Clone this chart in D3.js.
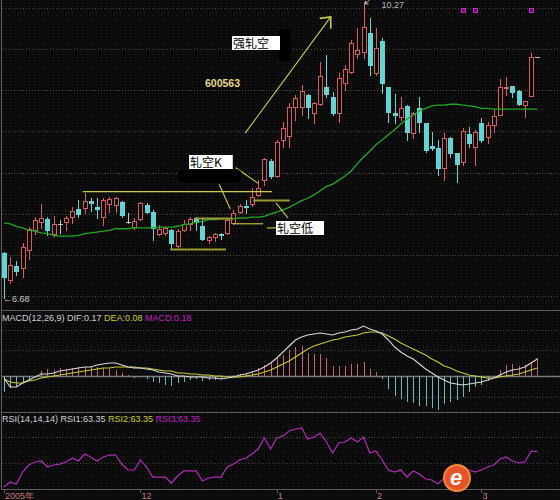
<!DOCTYPE html>
<html>
<head>
<meta charset="utf-8">
<script src="https://cdn.jsdelivr.net/npm/d3@7"></script>
<style>
  html, body { margin: 0; padding: 0; background: #0a0a0a; }
  svg { display: block; }
  text { font-family: "Liberation Sans", Arial, "DejaVu Sans", sans-serif; }
</style>
</head>
<body>
<script>
// daily bars, 600563
var opens = [7.23, 6.90, 7.07, 7.04, 7.26, 7.50, 7.60, 7.64, 7.46, 7.58,
  7.60, 7.66, 7.76, 7.77, 7.86, 7.78, 7.66, 7.82, 7.81, 7.84,
  7.60, 7.54, 7.64, 7.81, 7.72, 7.46, 7.47, 7.50, 7.31, 7.50,
  7.58, 7.65, 7.55, 7.38, 7.42, 7.46, 7.47, 7.59, 7.72, 7.80,
  7.82, 7.93, 8.11, 8.34, 8.16, 8.60, 8.65, 9.00, 9.00, 9.14,
  8.92, 9.03, 9.24, 9.12, 8.92, 9.29, 9.42, 9.64, 9.66, 9.89,
  9.41, 9.80, 9.24, 8.92, 8.88, 9.01, 8.68, 8.98, 8.80, 8.52,
  8.50, 8.26, 8.62, 8.44, 8.33, 8.67, 8.51, 8.80, 8.63, 8.78,
  8.90, 9.23, 9.25, 9.19, 9.02, 9.13, 9.60];
var highs = [7.24, 7.18, 7.13, 7.35, 7.54, 7.66, 7.82, 7.66, 7.67, 7.63,
  7.67, 7.78, 7.87, 7.95, 7.89, 7.89, 7.89, 7.91, 7.91, 7.86,
  7.71, 7.65, 7.84, 7.83, 7.75, 7.57, 7.54, 7.52, 7.52, 7.63,
  7.66, 7.66, 7.65, 7.43, 7.47, 7.47, 7.64, 7.75, 7.82, 7.87,
  8.01, 8.11, 8.38, 8.37, 8.60, 8.81, 9.05, 9.14, 9.26, 9.15,
  9.06, 9.54, 9.63, 9.18, 9.41, 9.51, 9.81, 9.96, 10.27, 10.08,
  9.96, 9.83, 9.24, 9.15, 9.12, 9.02, 8.94, 9.12, 8.80, 8.69,
  8.60, 8.68, 8.63, 8.44, 8.74, 8.75, 8.72, 8.86, 8.81, 8.96,
  9.34, 9.36, 9.25, 9.20, 9.07, 9.65, 9.60];
var lows = [6.68, 6.86, 6.96, 6.93, 7.15, 7.46, 7.53, 7.44, 7.43, 7.47,
  7.50, 7.59, 7.66, 7.71, 7.74, 7.65, 7.57, 7.72, 7.72, 7.66,
  7.59, 7.52, 7.63, 7.71, 7.38, 7.44, 7.44, 7.29, 7.30, 7.49,
  7.50, 7.50, 7.38, 7.35, 7.37, 7.40, 7.46, 7.58, 7.71, 7.71,
  7.80, 7.92, 8.05, 8.14, 8.15, 8.51, 8.51, 8.84, 8.90, 8.86,
  8.80, 9.02, 9.12, 8.90, 8.81, 9.20, 9.41, 9.59, 9.59, 9.38,
  9.38, 9.17, 8.81, 8.80, 8.84, 8.60, 8.62, 8.69, 8.45, 8.47,
  8.17, 8.11, 8.39, 8.09, 8.29, 8.51, 8.29, 8.57, 8.56, 8.69,
  8.90, 9.14, 9.12, 9.02, 8.88, 9.13, 9.60];
var closes = [6.93, 7.08, 7.01, 7.30, 7.52, 7.63, 7.65, 7.50, 7.58, 7.58,
  7.65, 7.74, 7.70, 7.86, 7.83, 7.76, 7.87, 7.88, 7.89, 7.69,
  7.60, 7.61, 7.83, 7.72, 7.53, 7.52, 7.53, 7.35, 7.49, 7.58,
  7.64, 7.60, 7.40, 7.42, 7.46, 7.44, 7.63, 7.71, 7.80, 7.78,
  7.90, 8.01, 8.37, 8.16, 8.57, 8.74, 9.00, 9.11, 9.19, 9.00,
  9.05, 9.37, 9.15, 8.92, 9.35, 9.46, 9.77, 9.69, 9.97, 9.51,
  9.71, 9.29, 8.94, 8.90, 8.98, 8.69, 8.92, 8.81, 8.47, 8.50,
  8.26, 8.62, 8.44, 8.31, 8.71, 8.56, 8.69, 8.60, 8.78, 8.89,
  9.24, 9.24, 9.18, 9.03, 9.07, 9.60, 9.60];

// moving average (green)
var maValues = [7.59, 7.58, 7.55, 7.53, 7.50, 7.49, 7.47, 7.46, 7.44, 7.43,
  7.43, 7.43, 7.44, 7.46, 7.47, 7.48, 7.49, 7.50, 7.52, 7.52,
  7.52, 7.53, 7.53, 7.53, 7.53, 7.54, 7.54, 7.54, 7.55, 7.57,
  7.58, 7.60, 7.61, 7.63, 7.63, 7.64, 7.64, 7.64, 7.65, 7.65,
  7.66, 7.66, 7.67, 7.70, 7.72, 7.75, 7.78, 7.82, 7.86, 7.89,
  7.93, 7.98, 8.03, 8.06, 8.11, 8.16, 8.22, 8.31, 8.39, 8.46,
  8.54, 8.60, 8.66, 8.72, 8.79, 8.85, 8.90, 8.95, 8.98, 9.01,
  9.02, 9.02, 9.03, 9.03, 9.02, 9.01, 9.00, 8.98, 8.98, 8.97,
  8.97, 8.97, 8.97, 8.97, 8.97, 8.97, 8.97];

// MACD(12,26,9)
var dif = [-0.02, -0.11, -0.11, -0.07, -0.04, -0.01, 0.02, 0.02, 0.03, 0.05,
  0.06, 0.07, 0.08, 0.09, 0.09, 0.11, 0.12, 0.13, 0.13, 0.11,
  0.09, 0.08, 0.08, 0.07, 0.06, 0.04, 0.03, 0.02, 0.00, 0.00,
  -0.01, -0.01, -0.01, -0.02, -0.02, -0.03, -0.02, -0.01, 0.01, 0.02,
  0.04, 0.06, 0.09, 0.13, 0.18, 0.24, 0.30, 0.36, 0.39, 0.41,
  0.42, 0.43, 0.42, 0.41, 0.43, 0.44, 0.46, 0.47, 0.50, 0.47,
  0.45, 0.42, 0.36, 0.29, 0.24, 0.20, 0.17, 0.12, 0.07, 0.03,
  -0.01, -0.04, -0.07, -0.08, -0.09, -0.08, -0.07, -0.06, -0.04, -0.02,
  0.01, 0.04, 0.06, 0.07, 0.09, 0.13, 0.17];
var dea = [-0.03, -0.06, -0.07, -0.07, -0.05, -0.04, -0.02, -0.01, 0.00, 0.01,
  0.02, 0.03, 0.04, 0.05, 0.06, 0.07, 0.08, 0.08, 0.09, 0.09,
  0.09, 0.09, 0.08, 0.08, 0.07, 0.06, 0.05, 0.05, 0.03, 0.03,
  0.02, 0.02, 0.01, 0.01, 0.00, 0.00, -0.01, -0.01, -0.01, 0.00,
  0.01, 0.02, 0.04, 0.06, 0.09, 0.12, 0.15, 0.19, 0.23, 0.27,
  0.30, 0.32, 0.34, 0.36, 0.37, 0.39, 0.40, 0.41, 0.43, 0.44,
  0.44, 0.43, 0.40, 0.37, 0.33, 0.30, 0.27, 0.24, 0.21, 0.17,
  0.14, 0.10, 0.08, 0.05, 0.03, 0.01, 0.00, -0.01, -0.02, -0.02,
  -0.01, 0.00, 0.01, 0.02, 0.04, 0.06, 0.08];
var macdBars = [-0.16, -0.12, -0.11, -0.06, -0.03, -0.01, 0.05, 0.07, 0.06, 0.08,
  0.06, 0.08, 0.09, 0.09, 0.10, 0.09, 0.08, 0.07, 0.06, 0.03,
  0.01, -0.02, -0.01, -0.03, -0.06, -0.07, -0.09, -0.10, -0.07, -0.06,
  -0.04, -0.03, -0.05, -0.04, -0.04, -0.03, -0.01, 0.01, 0.02, 0.03,
  0.04, 0.08, 0.11, 0.13, 0.18, 0.21, 0.26, 0.29, 0.30, 0.23,
  0.22, 0.22, 0.18, 0.10, 0.10, 0.10, 0.12, 0.12, 0.14, 0.07,
  0.04, -0.03, -0.13, -0.20, -0.23, -0.26, -0.27, -0.30, -0.30, -0.32,
  -0.34, -0.28, -0.26, -0.24, -0.21, -0.16, -0.11, -0.09, -0.05, 0.00,
  0.06, 0.11, 0.12, 0.10, 0.11, 0.14, 0.18];

// RSI(14,14,14) - the three lines coincide
var rsi = [22.3, 28.1, 25.8, 39.6, 47.7, 51.2, 52.3, 45.4, 47.7, 48.8,
  51.2, 55.8, 52.3, 60.4, 56.9, 52.3, 56.9, 59.2, 59.2, 48.8,
  41.9, 41.9, 53.5, 45.4, 33.8, 33.8, 33.8, 26.9, 35.0, 40.8,
  40.8, 40.8, 29.2, 32.7, 33.8, 33.8, 45.4, 48.8, 53.5, 55.8,
  60.4, 66.2, 78.8, 66.2, 78.8, 81.2, 86.9, 89.2, 90.4, 77.7,
  80.0, 84.6, 74.2, 61.5, 73.1, 74.2, 78.8, 74.2, 80.0, 61.5,
  63.8, 53.5, 41.9, 39.6, 41.9, 33.8, 40.8, 37.3, 31.5, 30.4,
  25.8, 32.7, 35.0, 33.8, 39.6, 41.9, 39.6, 41.9, 45.4, 47.7,
  54.6, 56.9, 52.3, 50.0, 51.2, 63.35, 63.35];

var monthLabels = ["2005年", "12", "1", "2", "3"];
var monthIdx = [0, 22, 44, 60, 77];
var priceGrid = [6.7, 7.2, 7.7, 8.2, 8.7, 9.2, 9.7, 10.2];
var macdGrid = [0.46, 0.26, -0.21];
var rsiGrid = [80, 50];
var signalIdx = [74, 76, 85];

// hand drawn marks, [bar index, price, bar index, price]
var thinMarks = [[12.7, 7.97, 43.2, 7.97], [36.9, 7.58, 41.8, 7.58], [42.4, 7.53, 44.0, 7.53],
  [37.4, 8.26, 41.0, 8.07], [34.7, 8.06, 36.5, 7.76], [43.9, 7.83, 45.8, 7.65]];
var thickMarks = [[26.8, 7.27, 35.8, 7.27], [30.8, 7.65, 36.9, 7.65], [40.2, 7.87, 46.1, 7.87]];
var trendMark = [38.9, 8.68, 52.7, 10.09];

var width = 560;
var height = 500;

var svg = d3.select("body").append("svg")
    .attr("width", width)
    .attr("height", height);

var defs = svg.append("defs");
var pat = defs.append("pattern").attr("id", "dots")
    .attr("width", 3).attr("height", 3).attr("patternUnits", "userSpaceOnUse");
pat.append("rect").attr("width", 3).attr("height", 3).attr("fill", "#0a0a0a");
pat.append("rect").attr("width", 1).attr("height", 1).attr("fill", "#1a1a1a");
svg.append("rect").attr("width", width).attr("height", height).attr("fill", "url(#dots)");

var x = d3.scaleLinear().domain([0, 86]).range([4, 537.2]);
var y = d3.scaleLinear().domain([6.68, 10.27]).range([298, 2]);
var yMacd = d3.scaleLinear().domain([-0.35, 0.65]).range([411, 311]);
var yRsi = d3.scaleLinear().domain([50, 80]).range([463, 437]);

function px(i) { return Math.round(x(i)) + 0.5; }
function py(v, s) { return Math.round(s(v)) + 0.5; }

var upColor = "#d65c5c", downColor = "#62d4d4", flatColor = "#bdbdbd";
function candleColor(i) {
  if (closes[i] > opens[i]) return upColor;
  if (closes[i] < opens[i]) return downColor;
  return flatColor;
}

// grid & frames
var grid = svg.append("g").attr("class", "grid");
grid.selectAll("line.pg").data(priceGrid).enter().append("line")
    .attr("x1", 2).attr("x2", width)
    .attr("y1", function(d) { return py(d, y); })
    .attr("y2", function(d) { return py(d, y); })
    .attr("stroke", "#4a4a4a").attr("stroke-dasharray", "1,2");
grid.selectAll("line.mg").data(macdGrid).enter().append("line")
    .attr("x1", 2).attr("x2", width)
    .attr("y1", function(d) { return py(d, yMacd); })
    .attr("y2", function(d) { return py(d, yMacd); })
    .attr("stroke", "#444").attr("stroke-dasharray", "1,2");
grid.selectAll("line.rg").data(rsiGrid).enter().append("line")
    .attr("x1", 2).attr("x2", width)
    .attr("y1", function(d) { return py(d, yRsi); })
    .attr("y2", function(d) { return py(d, yRsi); })
    .attr("stroke", "#444").attr("stroke-dasharray", "1,2");

[310.5, 412.5, 489.5].forEach(function(yy) {
  grid.append("line").attr("x1", 2).attr("x2", width)
      .attr("y1", yy).attr("y2", yy).attr("stroke", "#5c5c5c");
});
grid.append("line").attr("x1", 1.5).attr("x2", 1.5).attr("y1", 0).attr("y2", 490)
    .attr("stroke", "#5c5c5c");

// candles
var candles = svg.append("g").attr("class", "candles")
  .selectAll("g").data(d3.range(opens.length)).enter().append("g");

candles.append("line")
    .attr("x1", px).attr("x2", px)
    .attr("y1", function(i) { return Math.round(y(highs[i])); })
    .attr("y2", function(i) { return Math.round(y(lows[i])) + 1; })
    .attr("stroke", candleColor);

candles.filter(function(i) { return opens[i] !== closes[i]; }).append("rect")
    .attr("x", function(i) { return px(i) - 2; })
    .attr("y", function(i) { return py(Math.max(opens[i], closes[i]), y); })
    .attr("width", 4)
    .attr("height", function(i) {
      return Math.max(1, py(Math.min(opens[i], closes[i]), y) - py(Math.max(opens[i], closes[i]), y));
    })
    .attr("fill", function(i) { return closes[i] > opens[i] ? "#0a0a0a" : downColor; })
    .attr("stroke", candleColor);

candles.filter(function(i) { return opens[i] === closes[i]; }).append("line")
    .attr("x1", function(i) { return px(i) - 2.5; })
    .attr("x2", function(i) { return px(i) + 2.5; })
    .attr("y1", function(i) { return py(closes[i], y); })
    .attr("y2", function(i) { return py(closes[i], y); })
    .attr("stroke", flatColor);

// MA
svg.append("path")
    .datum(maValues)
    .attr("fill", "none")
    .attr("stroke", "#22a822")
    .attr("stroke-width", 1.3)
    .attr("d", d3.line().x(function(d, i) { return x(i); }).y(function(d) { return y(d); }));

// drawn marks
var marks = svg.append("g").attr("class", "marks");
marks.selectAll("line.thick").data(thickMarks).enter().append("line")
    .attr("x1", function(d) { return x(d[0]); }).attr("y1", function(d) { return py(d[1], y); })
    .attr("x2", function(d) { return x(d[2]); }).attr("y2", function(d) { return py(d[3], y); })
    .attr("stroke", "#9a9a36").attr("stroke-width", 2);
marks.selectAll("line.thin").data(thinMarks).enter().append("line")
    .attr("x1", function(d) { return x(d[0]); }).attr("y1", function(d) { return y(d[1]); })
    .attr("x2", function(d) { return x(d[2]); }).attr("y2", function(d) { return y(d[3]); })
    .attr("stroke", "#cfcc4a").attr("stroke-width", 1.1);

var tx = x(trendMark[2]), ty = y(trendMark[3]);
marks.append("line")
    .attr("x1", x(trendMark[0])).attr("y1", y(trendMark[1]))
    .attr("x2", tx).attr("y2", ty)
    .attr("stroke", "#cfcc4a").attr("stroke-width", 1.1);
marks.append("path")
    .attr("d", "M" + (tx - 11) + "," + (ty + 1.5) + "L" + tx + "," + ty + "L" + tx + "," + (ty + 12))
    .attr("fill", "none").attr("stroke", "#cfcc4a").attr("stroke-width", 1.6);

// shadows behind the callouts
marks.append("rect").attr("x", 279).attr("y", 29).attr("width", 12).attr("height", 32)
    .attr("rx", 3).attr("fill", "#000");
marks.append("rect").attr("x", 178).attr("y", 169).attr("width", 64).attr("height", 14)
    .attr("rx", 6).attr("fill", "#000");

function callout(label, left, top) {
  var g = marks.append("g");
  var r = g.append("rect").attr("x", left).attr("y", top).attr("height", 14).attr("fill", "#fff");
  var t = g.append("text").attr("x", left + 1).attr("y", top + 11.5)
      .style("font-family", "'Noto Sans CJK SC', sans-serif")
      .style("font-size", "12px").attr("fill", "#000").text(label);
  r.attr("width", t.node().getComputedTextLength() + 12);
}
callout("强轧空", 232, 36);
callout("轧空K", 189, 155);
callout("轧空低", 276, 221);

svg.append("text").attr("x", 205).attr("y", 87)
    .style("font-size", "10.5px").style("font-weight", "bold")
    .attr("fill", "#e4d68a").text("600563");

// high / low markers
var hiIdx = highs.indexOf(d3.max(highs));
var loIdx = lows.indexOf(d3.min(lows));
var hx = px(hiIdx), hy = y(highs[hiIdx]);
svg.append("path")
    .attr("d", "M" + (hx + 5) + "," + (hy - 2) + "L" + (hx + 1) + "," + (hy + 2) +
      "M" + (hx + 1) + "," + (hy - 1) + "L" + (hx + 1) + "," + (hy + 2) + "L" + (hx + 4) + "," + (hy + 2))
    .attr("fill", "none").attr("stroke", "#bdbdbd");
svg.append("text").attr("x", hx + 17).attr("y", hy + 5.5)
    .style("font-size", "9px").attr("fill", "#b8b8b8").text(d3.format(".2f")(highs[hiIdx]));
svg.append("text").attr("x", x(loIdx) - 1).attr("y", y(lows[loIdx]) + 4)
    .style("font-size", "9px").attr("fill", "#c8c8c8").text("←" + d3.format(".2f")(lows[loIdx]));

svg.selectAll("rect.sig").data(signalIdx).enter().append("rect")
    .attr("x", function(i) { return px(i) - 2; }).attr("y", 8.5)
    .attr("width", 4).attr("height", 4)
    .attr("fill", "#6a126a").attr("stroke", "#c424c4");

// MACD panel
var zero = py(0, yMacd);
svg.append("line").attr("x1", 2).attr("x2", width).attr("y1", zero).attr("y2", zero)
    .attr("stroke", "#7a7a7a").attr("stroke-width", 1.5);
svg.append("g").selectAll("line").data(macdBars).enter().append("line")
    .attr("x1", function(d, i) { return px(i); })
    .attr("x2", function(d, i) { return px(i); })
    .attr("y1", zero)
    .attr("y2", function(d) { return Math.round(yMacd(d)); })
    .attr("stroke", function(d) { return d >= 0 ? "#c86464" : "#62bcbc"; });

var lineGen = function(s) {
  return d3.line().x(function(d, i) { return x(i); }).y(function(d) { return s(d); });
};
svg.append("path").datum(dea).attr("fill", "none").attr("stroke", "#c8c83a")
    .attr("stroke-width", 1.1).attr("d", lineGen(yMacd));
svg.append("path").datum(dif).attr("fill", "none").attr("stroke", "#d8d8d8")
    .attr("stroke-width", 1.1).attr("d", lineGen(yMacd));

var mt = svg.append("text").attr("x", 2).attr("y", 320.5).style("font-size", "9px");
mt.append("tspan").attr("fill", "#d0d0d0").text("MACD(12,26,9) DIF:" + d3.format(".2f")(dif[dif.length - 1]) + " ");
mt.append("tspan").attr("fill", "#cccc30").text("DEA:" + d3.format(".2f")(dea[dea.length - 1]) + " ");
mt.append("tspan").attr("fill", "#c020c0").text("MACD:" + d3.format(".2f")(macdBars[macdBars.length - 1]));

// RSI panel
svg.append("path").datum(rsi).attr("fill", "none").attr("stroke", "#b02ab6")
    .attr("stroke-width", 1.2).attr("d", lineGen(yRsi));

var last = d3.format(".2f")(rsi[rsi.length - 1]);
var rt = svg.append("text").attr("x", 2).attr("y", 421.5).style("font-size", "9px");
rt.append("tspan").attr("fill", "#d0d0d0").text("RSI(14,14,14) RSI1:" + last + " ");
rt.append("tspan").attr("fill", "#cccc30").text("RSI2:" + last + " ");
rt.append("tspan").attr("fill", "#c020c0").text("RSI3:" + last);

// time axis
var axis = svg.append("g").attr("class", "time");
axis.selectAll("line").data(monthIdx).enter().append("line")
    .attr("x1", px).attr("x2", px).attr("y1", 490).attr("y2", 493)
    .attr("stroke", "#5c5c5c");
axis.selectAll("text").data(monthIdx).enter().append("text")
    .attr("x", function(i) { return x(i) + 1; }).attr("y", 498.5)
    .style("font-size", "9px").attr("fill", "#c87a7a")
    .text(function(d, k) { return monthLabels[k]; });

// site watermark
var logo = svg.append("g").attr("transform", "translate(457,478)");
logo.append("circle").attr("r", 13).attr("fill", "#e8532c");
logo.append("circle").attr("r", 13).attr("fill", "none").attr("stroke", "#f08a3a").attr("stroke-width", 2);
logo.append("text").attr("x", -1).attr("y", 7).attr("text-anchor", "middle")
    .style("font-size", "22px").style("font-weight", "bold").style("font-style", "italic")
    .attr("fill", "#fff").text("e");
</script>
</body>
</html>
